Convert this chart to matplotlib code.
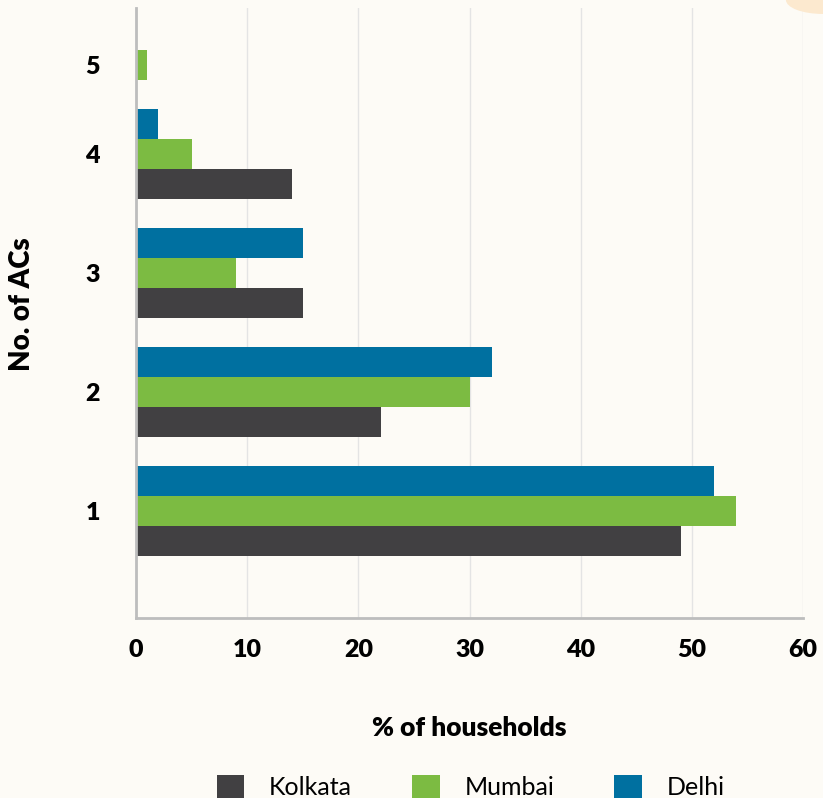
import matplotlib.pyplot as plt
from matplotlib.patches import Patch, Ellipse
import numpy as np

plt.rcParams['font.family'] = ['Lato', 'DejaVu Sans']

# data
categories = ['1', '2', '3', '4', '5']
kolkata = [49, 22, 15, 14, 0]
mumbai = [54, 30, 9, 5, 1]
delhi = [52, 32, 15, 2, 0]
series_names = ['Kolkata', 'Mumbai', 'Delhi']
x_ticks = [0, 10, 20, 30, 40, 50, 60]

# layout: group centres (group 5 sits closer to group 4 in the original)
group_pos = np.array([0, 1, 2, 3, 3.75])
bar_h = 0.25
colors = ['#414042', '#7cbb42', '#0070a0']
bg = '#fdfbf6'

fig = plt.figure(figsize=(8.23, 7.98), dpi=100, facecolor=bg)
# faint orange blob top-right
blob = Ellipse((1.0, 1.0), 0.09, 0.035, transform=fig.transFigure,
               facecolor='#fce9cf', edgecolor='none', zorder=0)
fig.patches.append(blob)

ax = fig.add_axes([136 / 823, 1 - 618 / 798, (803 - 136) / 823, (618 - 8) / 798])
ax.set_facecolor('none')

# Kolkata at the bottom of each group, Delhi at the top
offsets = [-bar_h, 0, bar_h]
for vals, off, col, name in zip([kolkata, mumbai, delhi], offsets, colors, series_names):
    ax.barh(group_pos + off, vals, height=bar_h, color=col, label=name, zorder=3)

ax.set_xlim(0, 60)
ax.set_ylim(-0.9, 4.227)
ax.set_xticks(x_ticks)
ax.set_xticklabels([str(t) for t in x_ticks], fontsize=18, fontweight='heavy')
ax.set_yticks(group_pos)
ax.set_yticklabels(categories, fontsize=18, fontweight='heavy')
ax.tick_params(length=0)
ax.tick_params(axis='x', pad=15)
ax.tick_params(axis='y', pad=26)

ax.grid(axis='x', color='#e4e4e4', linewidth=1, zorder=0)
for s in ['top', 'right']:
    ax.spines[s].set_visible(False)
for s in ['left', 'bottom']:
    ax.spines[s].set_color('#bdbdbd')
    ax.spines[s].set_linewidth(2)
    ax.spines[s].set_zorder(4)

ax.set_xlabel('% of households', fontsize=19, fontweight='heavy')
ax.xaxis.set_label_coords(0.5, -0.18)
ax.set_ylabel('No. of ACs', fontsize=20, fontweight='heavy')
ax.yaxis.set_label_coords(-0.171, 0.515)
ax.xaxis.label.set_va('center')
ax.yaxis.label.set_va('center')

handles = [Patch(facecolor=c, edgecolor='none') for c in colors]
fig.legend(handles, series_names, loc='lower center', bbox_to_anchor=(0.572, -0.03),
           ncol=3, frameon=False, fontsize=18, handlelength=1.1, handleheight=1.1,
           handletextpad=1.0, columnspacing=2.4)

plt.savefig('out.png', dpi=100, facecolor=bg)
